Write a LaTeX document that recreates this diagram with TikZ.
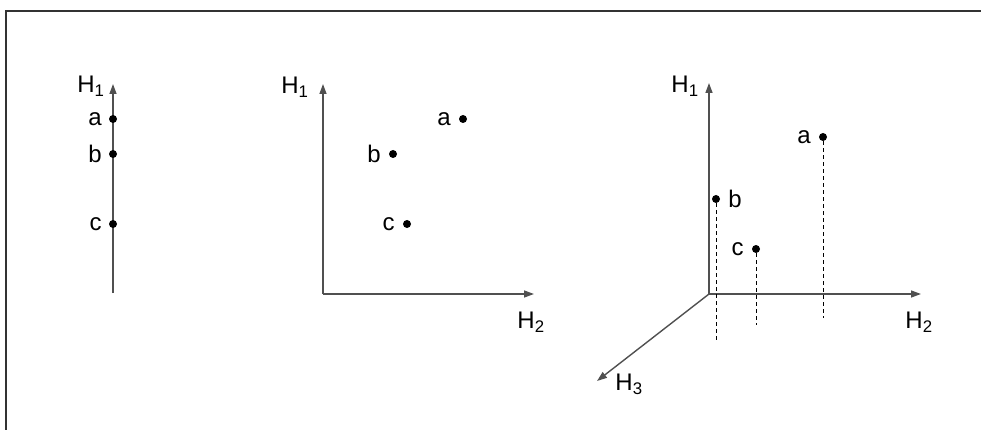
\documentclass[tikz,border=0pt]{standalone}
\usepackage{fontspec}
\setmainfont{Liberation Sans}
\usepackage{tikz}
\usetikzlibrary{arrows.meta,positioning}
\definecolor{axc}{HTML}{505050}
\definecolor{framec}{HTML}{333333}
\tikzset{
  ax/.style={-{Triangle[length=10pt,width=7pt]},line width=1.4pt,axc},
  pt/.style={circle,fill=black,inner sep=0pt,minimum size=8pt},
  lbl/.style={font=\fontsize{24}{27}\selectfont,inner sep=2pt},
  drop/.style={dashed,dash pattern=on 4pt off 3pt,line width=1pt,black}
}
\begin{document}
\begin{tikzpicture}[x=1pt,y=-1pt]
\useasboundingbox (0,0) rectangle (981,430);
\draw[framec,line width=2pt] (6,430) -- (6,11) -- (981,11);
% one axis
\coordinate (o1) at (113,293);
\coordinate (t1) at (113,84);
\draw[ax] (o1) -- (t1);
\node[lbl] (h1a) at (91,86) {H\textsubscript{1}};
\node[pt] (a1) at (113,119) {};
\node[pt] (b1) at (113,154) {};
\node[pt] (c1) at (113,224) {};
\node[lbl,left=5pt of a1] {a};
\node[lbl,left=5pt of b1] {b};
\node[lbl,left=5pt of c1] {c};
% two axes
\coordinate (o2) at (323,294);
\draw[ax] (o2) -- (323,84) coordinate (t2y);
\draw[ax] (o2) -- (534,294) coordinate (t2x);
\node[lbl] (h1b) at (295,87) {H\textsubscript{1}};
\node[lbl] (h2b) at (531,322) {H\textsubscript{2}};
\node[pt] (a2) at (463,119) {};
\node[pt] (b2) at (393,154) {};
\node[pt] (c2) at (407,224) {};
\node[lbl,left=6pt of a2] {a};
\node[lbl,left=6pt of b2] {b};
\node[lbl,left=6pt of c2] {c};
% three axes
\coordinate (o3) at (709,294);
\draw[ax] (o3) -- (709,83) coordinate (t3y);
\draw[ax] (o3) -- (921,294) coordinate (t3x);
\draw[ax] (o3) -- (597,381) coordinate (t3z);
\node[lbl] (h1c) at (685,86) {H\textsubscript{1}};
\node[lbl] (h2c) at (919,322) {H\textsubscript{2}};
\node[lbl] (h3c) at (629,384) {H\textsubscript{3}};
\node[pt] (a3) at (823,137) {};
\node[pt] (b3) at (716,199) {};
\node[pt] (c3) at (756,249) {};
\node[lbl,left=6pt of a3] {a};
\node[lbl,right=6pt of b3] {b};
\node[lbl,left=6pt of c3] {c};
\coordinate (a3f) at (823,318);
\coordinate (b3f) at (716,342);
\coordinate (c3f) at (756,325);
\draw[drop] (a3) -- (a3f);
\draw[drop] (b3) -- (b3f);
\draw[drop] (c3) -- (c3f);
\end{tikzpicture}
\end{document}
